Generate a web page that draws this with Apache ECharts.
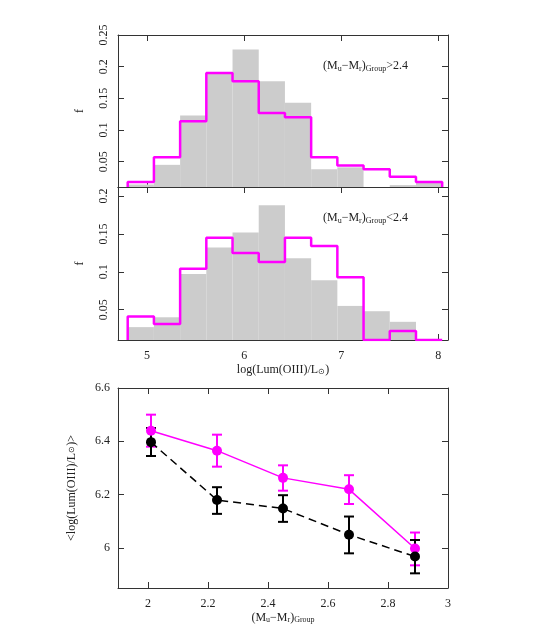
<!DOCTYPE html>
<html><head><meta charset="utf-8">
<script src="https://cdn.jsdelivr.net/npm/echarts@6/dist/echarts.min.js"></script>
<style>html,body{margin:0;background:#fff}#c{width:545px;height:627px}</style></head>
<body><div id="c"></div>
<script>
const binEdges = [4.80,5.07,5.34,5.61,5.88,6.15,6.42,6.69,6.96,7.23,7.50,7.77,8.04];
const topGray    = [0.014,0.045,0.123,0.189,0.227,0.177,0.143,0.038,0.041,0.010,0.013,0.017];
const topMagenta = [0.018,0.057,0.114,0.190,0.177,0.127,0.120,0.057,0.044,0.038,0.026,0.018];
const midGray    = [0.027,0.040,0.097,0.132,0.152,0.188,0.118,0.089,0.055,0.048,0.034,0.010];
const midMagenta = [0.041,0.031,0.104,0.145,0.125,0.113,0.145,0.134,0.093,0.010,0.022,0.010];
const histTicks = [5,6,7,8];
const colorTicks = [2,2.2,2.4,2.6,2.8,3];
const colorX = [2.01,2.23,2.45,2.67,2.89];
const magMean = [6.440,6.365,6.263,6.220,5.998];
const magLo   = [6.380,6.305,6.215,6.165,5.935];
const magHi   = [6.500,6.425,6.310,6.273,6.058];
const blkMean = [6.397,6.180,6.148,6.050,5.968];
const blkLo   = [6.345,6.128,6.098,5.980,5.905];
const blkHi   = [6.450,6.228,6.198,6.118,6.030];

const FONT = 'Liberation Serif';
const MAG = '#ff00ff';
function rects(vals){ return vals.map((v,i)=>[binEdges[i],binEdges[i+1],v]); }
function steps(vals,base){
  const p=[[binEdges[0],base]];
  vals.forEach((v,i)=>{p.push([binEdges[i],v]);p.push([binEdges[i+1],v]);});
  p.push([binEdges[binEdges.length-1],base]);
  return p;
}
function histRender(base){
  return function(params,api){
    const a=api.coord([api.value(0),api.value(2)]);
    const b=api.coord([api.value(1),base]);
    return {type:'rect',shape:{x:a[0],y:a[1],width:b[0]-a[0],height:b[1]-a[1]},style:{fill:'#cccccc'}};
  };
}
function errRender(lo,hi,color){
  return function(params,api){
    const x=api.value(0), i=params.dataIndex;
    const p1=api.coord([x,lo[i]]), p2=api.coord([x,hi[i]]);
    const w=5;
    return {type:'group',children:[
      {type:'line',shape:{x1:p1[0],y1:p1[1],x2:p2[0],y2:p2[1]},style:{stroke:color,lineWidth:2}},
      {type:'line',shape:{x1:p1[0]-w,y1:p1[1],x2:p1[0]+w,y2:p1[1]},style:{stroke:color,lineWidth:2}},
      {type:'line',shape:{x1:p2[0]-w,y1:p2[1],x2:p2[0]+w,y2:p2[1]},style:{stroke:color,lineWidth:2}}
    ]};
  };
}
const axLine={show:true,lineStyle:{color:'#333',width:1}};
function xAx(grid,min,max,ticks,labels,name,pos){
  return {type:'value',gridIndex:grid,min,max,position:pos||'bottom',
    axisLine:axLine,axisTick:{inside:true,length:6,customValues:ticks,lineStyle:{color:'#333'}},
    splitLine:{show:false},
    axisLabel:{show:labels,customValues:ticks,fontFamily:FONT,fontSize:12,color:'#222',margin:10,formatter:v=>String(+v.toFixed(1))},
    name:name||'',nameLocation:'middle',nameGap:24,nameTextStyle:{fontFamily:FONT,fontSize:12,color:'#222',rich:{s:{fontSize:8,verticalAlign:'bottom',fontFamily:FONT}}}};
}
function yAxHist(grid,min,max,labels,pos){
  const t=[0.05,0.1,0.15,0.2,0.25].filter(v=>v<=max);
  return {type:'value',gridIndex:grid,min,max,position:pos||'left',
    axisLine:axLine,
    axisTick:{inside:true,length:6,customValues:t,lineStyle:{color:'#333'}},
    splitLine:{show:false},
    axisLabel:{show:labels,rotate:90,fontFamily:FONT,fontSize:12,color:'#222',margin:8,
      customValues:t,formatter:v=>String(+v.toFixed(2))},
    name:labels?'f':'',nameLocation:'middle',nameGap:32,nameRotate:90,nameTextStyle:{fontFamily:FONT,fontSize:12,color:'#222'}};
}
const option={
  animation:false,
  grid:[
    {left:118,width:330,top:35,height:152},
    {left:118,width:330,top:187,height:153},
    {left:118,width:330,top:388,height:200}
  ],
  xAxis:[
    xAx(0,4.7,8.1,histTicks,false),
    xAx(1,4.7,8.1,histTicks,true,'log(Lum(OIII)/L{s|⊙})'),
    xAx(2,1.9,3,colorTicks,true,'(M{s|u}−M{s|r}){s|Group}'),
    xAx(0,4.7,8.1,histTicks,false,'','top'),
    xAx(1,4.7,8.1,histTicks,false,'','top'),
    xAx(2,1.9,3,colorTicks,false,'','top')
  ],
  yAxis:[
    yAxHist(0,0.01,0.25,true),
    yAxHist(1,0.01,0.212,true),
    {type:'value',gridIndex:2,min:5.85,max:6.6,position:'left',axisLine:axLine,
      axisTick:{inside:true,length:6,customValues:[6,6.2,6.4,6.6],lineStyle:{color:'#333'}},
      splitLine:{show:false},
      axisLabel:{customValues:[6,6.2,6.4,6.6],fontFamily:FONT,fontSize:12,color:'#222',formatter:v=>String(+v.toFixed(1))},
      name:'<log(Lum(OIII)/L{s|⊙})>',nameLocation:'middle',nameGap:40,nameRotate:90,
      nameTextStyle:{fontFamily:FONT,fontSize:12,color:'#222',rich:{s:{fontSize:8,fontFamily:FONT}}}},
    yAxHist(0,0.01,0.25,false,'right'),
    yAxHist(1,0.01,0.212,false,'right'),
    {type:'value',gridIndex:2,min:5.85,max:6.6,position:'right',axisLine:axLine,
      axisTick:{inside:true,length:6,customValues:[6,6.2,6.4,6.6],lineStyle:{color:'#333'}},
      splitLine:{show:false},axisLabel:{show:false}}
  ],
  title:[
    {text:'(M{s|u}−M{s|r}){s|Group}>2.4',left:318,top:54,textStyle:{fontFamily:FONT,fontSize:12,fontWeight:'normal',color:'#222',rich:{s:{fontSize:8,fontFamily:FONT,verticalAlign:'bottom',padding:[6,0,0,0]}}}},
    {text:'(M{s|u}−M{s|r}){s|Group}<2.4',left:318,top:206,textStyle:{fontFamily:FONT,fontSize:12,fontWeight:'normal',color:'#222',rich:{s:{fontSize:8,fontFamily:FONT,verticalAlign:'bottom',padding:[6,0,0,0]}}}}
  ],
  series:[
    {type:'custom',xAxisIndex:0,yAxisIndex:0,renderItem:histRender(0.01),data:rects(topGray),encode:{x:[0,1],y:2},clip:true},
    {type:'line',xAxisIndex:0,yAxisIndex:0,data:steps(topMagenta,0.01),showSymbol:false,lineStyle:{color:MAG,width:2.5},clip:true},
    {type:'custom',xAxisIndex:1,yAxisIndex:1,renderItem:histRender(0.01),data:rects(midGray),encode:{x:[0,1],y:2},clip:true},
    {type:'line',xAxisIndex:1,yAxisIndex:1,data:steps(midMagenta,0.01),showSymbol:false,lineStyle:{color:MAG,width:2.5},clip:true},
    {type:'custom',xAxisIndex:2,yAxisIndex:2,renderItem:errRender(magLo,magHi,MAG),data:colorX.map((x,i)=>[x,magMean[i]]),z:3},
    {type:'custom',xAxisIndex:2,yAxisIndex:2,renderItem:errRender(blkLo,blkHi,'#000'),data:colorX.map((x,i)=>[x,blkMean[i]]),z:3},
    {type:'line',xAxisIndex:2,yAxisIndex:2,data:colorX.map((x,i)=>[x,magMean[i]]),symbol:'circle',symbolSize:10,
      itemStyle:{color:MAG},lineStyle:{color:MAG,width:1.5},z:4},
    {type:'line',xAxisIndex:2,yAxisIndex:2,data:colorX.map((x,i)=>[x,blkMean[i]]),symbol:'circle',symbolSize:10,
      itemStyle:{color:'#000'},lineStyle:{color:'#000',width:1.5,type:[8,5]},z:4}
  ]
};
echarts.init(document.getElementById('c')).setOption(option);
</script></body></html>
